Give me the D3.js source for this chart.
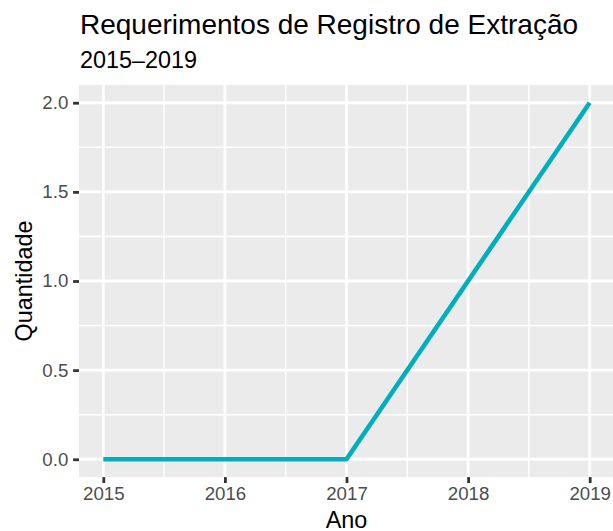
<!DOCTYPE html>
<html>
<head>
<meta charset="utf-8">
<script src="https://cdn.jsdelivr.net/npm/d3@7"></script>
<style>
  body { margin: 0; background: #fff; }
  svg { display: block; font-family: "Liberation Sans", Arial, Helvetica, sans-serif; }
</style>
</head>
<body>
<script>
// chart data
const anos = [2015, 2016, 2017, 2018, 2019];
const quantidade = [0, 0, 0, 1, 2];
const yTicks = [0, 0.5, 1, 1.5, 2];
const yMinor = [0.25, 0.75, 1.25, 1.75];
const xMinor = [2015.5, 2016.5, 2017.5, 2018.5];

const titulo = "Requerimentos de Registro de Extração";
const subtitulo = "2015\u20132019";

const w = 613;
const h = 531;
// panel box (right side runs off the picture, as in the original)
const pLeft = 79, pRight = 614, pTop = 84.9, pBottom = 477.1;

const svg = d3.select("body")
  .append("svg")
  .attr("width", w)
  .attr("height", h);

// ggplot-style 5% expansion
const xScale = d3.scaleLinear()
  .domain([2015 - 0.2, 2019 + 0.2])
  .range([pLeft, pRight]);
const yScale = d3.scaleLinear()
  .domain([0 - 0.1, 2 + 0.1])
  .range([pBottom, pTop]);

// panel background
svg.append("rect")
  .attr("x", pLeft)
  .attr("y", pTop)
  .attr("width", pRight - pLeft)
  .attr("height", pBottom - pTop)
  .attr("fill", "#EBEBEB");

// grid lines
const grid = svg.append("g");
grid.selectAll(".ymin").data(yMinor).enter().append("line")
  .attr("x1", pLeft).attr("x2", pRight)
  .attr("y1", d => yScale(d)).attr("y2", d => yScale(d))
  .attr("stroke", "#fff").attr("stroke-width", 1.4);
grid.selectAll(".xmin").data(xMinor).enter().append("line")
  .attr("y1", pTop).attr("y2", pBottom)
  .attr("x1", d => xScale(d)).attr("x2", d => xScale(d))
  .attr("stroke", "#fff").attr("stroke-width", 1.4);
grid.selectAll(".ymaj").data(yTicks).enter().append("line")
  .attr("x1", pLeft).attr("x2", pRight)
  .attr("y1", d => yScale(d)).attr("y2", d => yScale(d))
  .attr("stroke", "#fff").attr("stroke-width", 2.8);
grid.selectAll(".xmaj").data(anos).enter().append("line")
  .attr("y1", pTop).attr("y2", pBottom)
  .attr("x1", d => xScale(d)).attr("x2", d => xScale(d))
  .attr("stroke", "#fff").attr("stroke-width", 2.8);

// the series line
const line = d3.line()
  .x((d, i) => xScale(anos[i]))
  .y(d => yScale(d));
svg.append("path")
  .datum(quantidade)
  .attr("d", line)
  .attr("fill", "none")
  .attr("stroke", "#00AFBB")
  .attr("stroke-width", 4.6)
  .attr("stroke-linejoin", "round");

// axes
const xAxis = d3.axisBottom(xScale)
  .tickValues(anos)
  .tickFormat(d3.format("d"))
  .tickSize(5.9)
  .tickPadding(4.1);
const gx = svg.append("g")
  .attr("transform", "translate(0," + pBottom + ")")
  .call(xAxis);

const yAxis = d3.axisLeft(yScale)
  .tickValues(yTicks)
  .tickFormat(d3.format(".1f"))
  .tickSize(5.9)
  .tickPadding(4.8);
const gy = svg.append("g")
  .attr("transform", "translate(" + pLeft + ",0)")
  .call(yAxis);

[gx, gy].forEach(g => {
  g.select(".domain").remove();
  g.selectAll(".tick line").attr("stroke", "#333333").attr("stroke-width", 2.8);
  g.selectAll(".tick text")
    .attr("fill", "#4D4D4D")
    .style("font-size", "18.7px")
    .style("font-family", "'Liberation Sans', Arial, sans-serif");
});

// titles
svg.append("text")
  .attr("x", 80)
  .attr("y", 34)
  .attr("font-size", "28px")
  .attr("fill", "#000")
  .text(titulo);
svg.append("text")
  .attr("x", 80)
  .attr("y", 68)
  .attr("font-size", "23.4px")
  .attr("fill", "#000")
  .text(subtitulo);

svg.append("text")
  .attr("x", (pLeft + pRight) / 2)
  .attr("y", 528)
  .attr("text-anchor", "middle")
  .attr("font-size", "23.4px")
  .attr("fill", "#000")
  .text("Ano");

svg.append("text")
  .attr("transform", "translate(32," + ((pTop + pBottom) / 2) + ") rotate(-90)")
  .attr("text-anchor", "middle")
  .attr("font-size", "23.4px")
  .attr("fill", "#000")
  .text("Quantidade");
</script>
</body>
</html>
